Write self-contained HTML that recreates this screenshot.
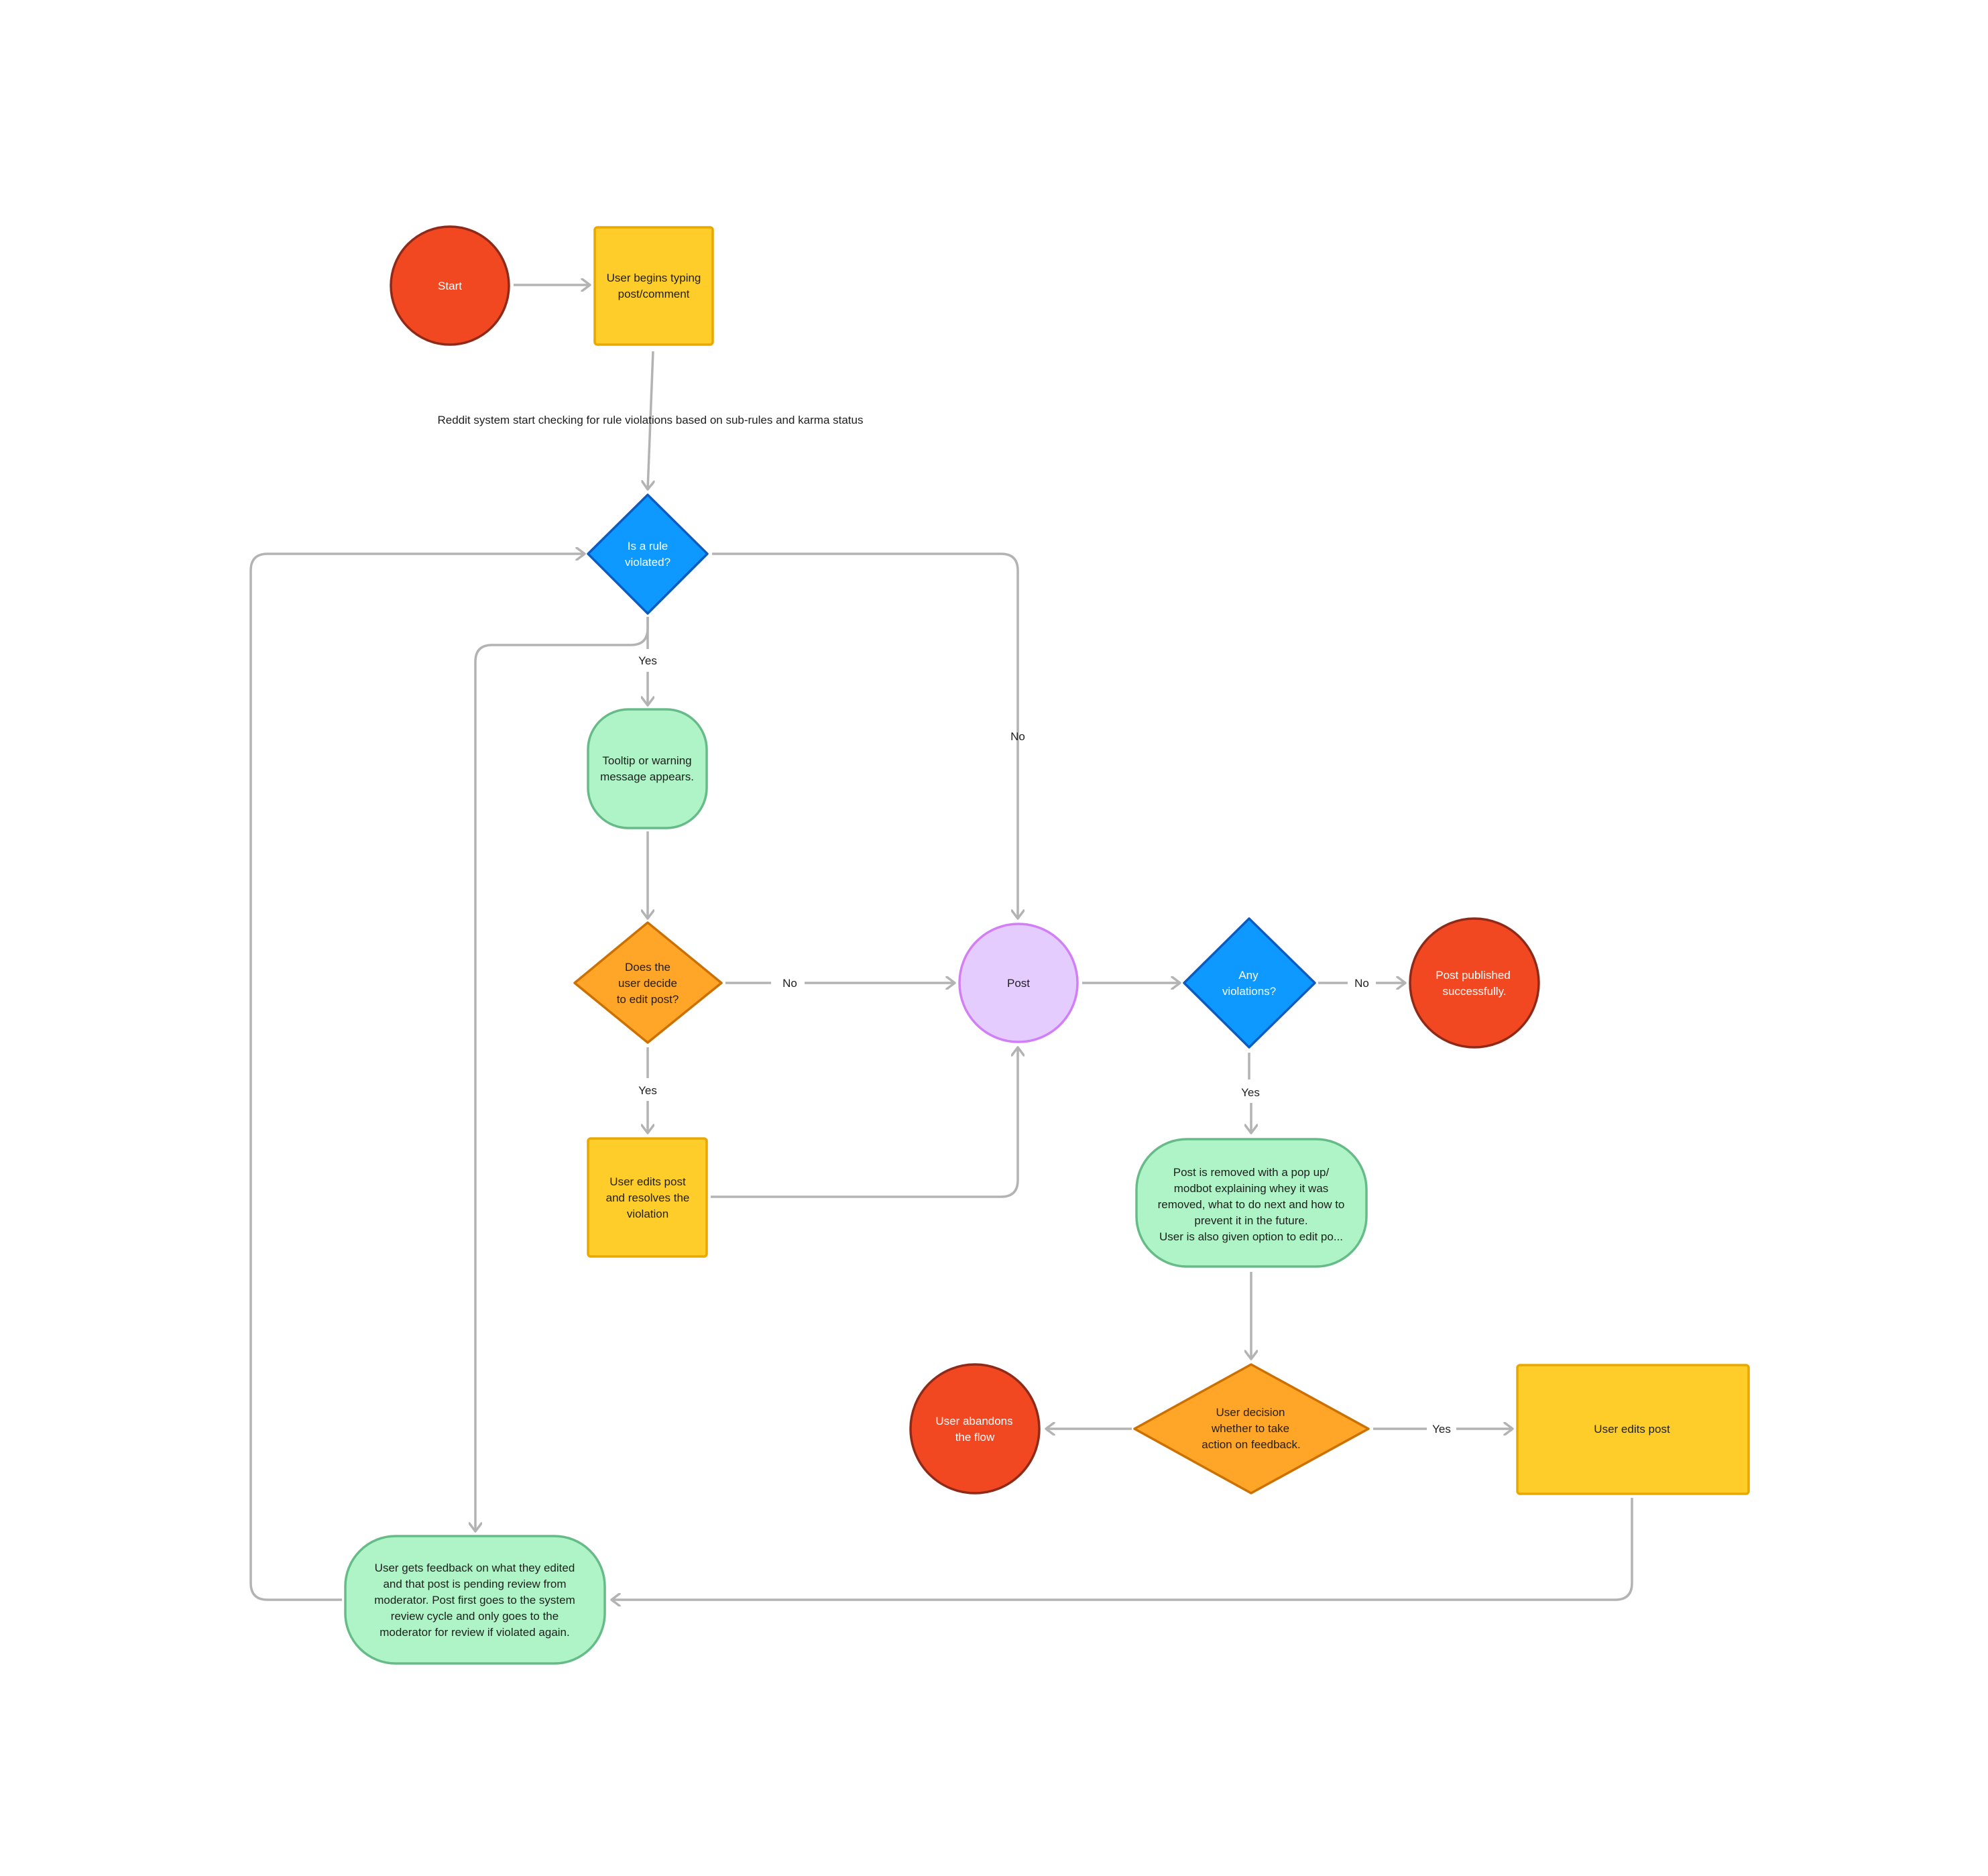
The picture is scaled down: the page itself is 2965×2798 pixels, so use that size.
<!DOCTYPE html>
<html><head><meta charset="utf-8">
<style>
html,body{margin:0;padding:0;background:#fff;}
svg{display:block;}
text{font-family:"Liberation Sans",sans-serif;font-size:17px;}
</style></head>
<body>
<svg width="2965" height="2798" viewBox="0 0 2965 2798" xmlns="http://www.w3.org/2000/svg">
<defs>
<marker id="a" viewBox="0 0 20 20" refX="18" refY="10" markerWidth="20" markerHeight="20" markerUnits="userSpaceOnUse" orient="auto">
<path d="M6 1 L18 10 L6 19" fill="none" stroke="#b3b3b3" stroke-width="3.5" stroke-linecap="round" stroke-linejoin="round"/>
</marker>
</defs>
<rect width="2965" height="2798" fill="#fff"/>
<g fill="none" stroke="#b3b3b3" stroke-width="3.5">
<!-- Start -> box -->
<path d="M766 425 L880 425" marker-end="url(#a)"/>
<!-- box -> diamond1 -->
<path d="M974 524 L966 730" marker-end="url(#a)"/>
<!-- diamond1 right No -> Post -->
<path d="M1062 826 L1493 826 Q1518 826 1518 851 L1518 1370" marker-end="url(#a)"/>
<!-- diamond1 bottom Yes -->
<path d="M966 920 L966 968"/>
<path d="M966 1002 L966 1052" marker-end="url(#a)"/>
<!-- branch to green3 -->
<path d="M966 920 L966 937 Q966 962 941 962 L734 962 Q709 962 709 987 L709 2284" marker-end="url(#a)"/>
<!-- left loop -->
<path d="M510 2386 L399 2386 Q374 2386 374 2361 L374 851 Q374 826 399 826 L872 826" marker-end="url(#a)"/>
<!-- tooltip -> diamond2 -->
<path d="M966 1240 L966 1370" marker-end="url(#a)"/>
<!-- diamond2 No -> Post -->
<path d="M1082 1466 L1150 1466"/>
<path d="M1200 1466 L1424 1466" marker-end="url(#a)"/>
<!-- diamond2 Yes -> box2 -->
<path d="M966 1562 L966 1608"/>
<path d="M966 1642 L966 1690" marker-end="url(#a)"/>
<!-- box2 -> Post bottom -->
<path d="M1060 1785 L1493 1785 Q1518 1785 1518 1760 L1518 1562" marker-end="url(#a)"/>
<!-- Post -> diamond3 -->
<path d="M1614 1466 L1760 1466" marker-end="url(#a)"/>
<!-- diamond3 No -->
<path d="M1966 1466 L2010 1466"/>
<path d="M2052 1466 L2096 1466" marker-end="url(#a)"/>
<!-- diamond3 Yes -->
<path d="M1863 1570 L1863 1610"/>
<path d="M1866 1645 L1866 1690" marker-end="url(#a)"/>
<!-- green2 -> orange3 -->
<path d="M1866 1897 L1866 2027" marker-end="url(#a)"/>
<!-- orange3 left -> abandons -->
<path d="M1688 2131 L1560 2131" marker-end="url(#a)"/>
<!-- orange3 Yes -> box3 -->
<path d="M2048 2131 L2128 2131"/>
<path d="M2172 2131 L2256 2131" marker-end="url(#a)"/>
<!-- box3 -> green3 -->
<path d="M2434 2234 L2434 2361 Q2434 2386 2409 2386 L912 2386" marker-end="url(#a)"/>
</g>

<!-- Nodes -->
<circle cx="671" cy="426" r="88" fill="#f24822" stroke="#8f2a18" stroke-width="3.5"/>
<rect x="887" y="339" width="176" height="175" rx="4" fill="#ffcd29" stroke="#e8a800" stroke-width="3.5"/>
<path d="M966 738 L1055 826 L966 915 L877 826 Z" fill="#0d99ff" stroke="#0b5cc0" stroke-width="3.5" stroke-linejoin="round"/>
<rect x="877" y="1058" width="177" height="177" rx="60" fill="#aff4c6" stroke="#66bb88" stroke-width="3.5"/>
<path d="M966 1376 L1076 1466 L966 1555 L857 1466 Z" fill="#ffa629" stroke="#cc7000" stroke-width="3.5" stroke-linejoin="round"/>
<circle cx="1519" cy="1466" r="88" fill="#e4ccff" stroke="#d27ef7" stroke-width="3.5"/>
<path d="M1863 1370 L1961 1466 L1863 1562 L1766 1466 Z" fill="#0d99ff" stroke="#0b5cc0" stroke-width="3.5" stroke-linejoin="round"/>
<circle cx="2199" cy="1466" r="96" fill="#f24822" stroke="#8f2a18" stroke-width="3.5"/>
<rect x="877" y="1698" width="177" height="176" rx="4" fill="#ffcd29" stroke="#e8a800" stroke-width="3.5"/>
<rect x="1695" y="1699" width="343" height="190" rx="75" fill="#aff4c6" stroke="#66bb88" stroke-width="3.5"/>
<path d="M1866 2035 L2041 2131 L1866 2227 L1692 2131 Z" fill="#ffa629" stroke="#cc7000" stroke-width="3.5" stroke-linejoin="round"/>
<circle cx="1454" cy="2131" r="96" fill="#f24822" stroke="#8f2a18" stroke-width="3.5"/>
<rect x="2263" y="2036" width="345" height="192" rx="4" fill="#ffcd29" stroke="#e8a800" stroke-width="3.5"/>
<rect x="515" y="2291" width="387" height="190" rx="75" fill="#aff4c6" stroke="#66bb88" stroke-width="3.5"/>

<!-- Text -->
<g text-anchor="middle">
<text x="671" y="432" fill="#fff">Start</text>
<text x="975" y="420" fill="#1e1e1e">User begins typing</text>
<text x="975" y="444" fill="#1e1e1e">post/comment</text>
<text x="970" y="632" fill="#1e1e1e">Reddit system start checking for rule violations based on sub-rules and karma status</text>
<text x="966" y="820" fill="#fff">Is a rule</text>
<text x="966" y="844" fill="#fff">violated?</text>
<text x="966" y="991" fill="#1e1e1e">Yes</text>
<text x="1518" y="1104" fill="#1e1e1e">No</text>
<text x="965" y="1140" fill="#1e1e1e">Tooltip or warning</text>
<text x="965" y="1164" fill="#1e1e1e">message appears.</text>
<text x="966" y="1448" fill="#1e1e1e">Does the</text>
<text x="966" y="1472" fill="#1e1e1e">user decide</text>
<text x="966" y="1496" fill="#1e1e1e">to edit post?</text>
<text x="1178" y="1472" fill="#1e1e1e">No</text>
<text x="966" y="1632" fill="#1e1e1e">Yes</text>
<text x="966" y="1768" fill="#1e1e1e">User edits post</text>
<text x="966" y="1792" fill="#1e1e1e">and resolves the</text>
<text x="966" y="1816" fill="#1e1e1e">violation</text>
<text x="1519" y="1472" fill="#1e1e1e">Post</text>
<text x="1862" y="1460" fill="#fff">Any</text>
<text x="1863" y="1484" fill="#fff">violations?</text>
<text x="2031" y="1472" fill="#1e1e1e">No</text>
<text x="2197" y="1460" fill="#fff">Post published</text>
<text x="2199" y="1484" fill="#fff">successfully.</text>
<text x="1865" y="1635" fill="#1e1e1e">Yes</text>
<text x="1866" y="1754" fill="#1e1e1e">Post is removed with a pop up/</text>
<text x="1866" y="1778" fill="#1e1e1e">modbot explaining whey it was</text>
<text x="1866" y="1802" fill="#1e1e1e">removed, what to do next and how to</text>
<text x="1866" y="1826" fill="#1e1e1e">prevent it in the future.</text>
<text x="1866" y="1850" fill="#1e1e1e">User is also given option to edit po...</text>
<text x="1865" y="2112" fill="#1e1e1e">User decision</text>
<text x="1865" y="2136" fill="#1e1e1e">whether to take</text>
<text x="1866" y="2160" fill="#1e1e1e">action on feedback.</text>
<text x="1453" y="2125" fill="#fff">User abandons</text>
<text x="1454" y="2149" fill="#fff">the flow</text>
<text x="2150" y="2137" fill="#1e1e1e">Yes</text>
<text x="2434" y="2137" fill="#1e1e1e">User edits post</text>
<text x="708" y="2344" fill="#1e1e1e">User gets feedback on what they edited</text>
<text x="708" y="2368" fill="#1e1e1e">and that post is pending review from</text>
<text x="708" y="2392" fill="#1e1e1e">moderator. Post first goes to the system</text>
<text x="708" y="2416" fill="#1e1e1e">review cycle and only goes to the</text>
<text x="708" y="2440" fill="#1e1e1e">moderator for review if violated again.</text>
</g>
</svg>
</body></html>
